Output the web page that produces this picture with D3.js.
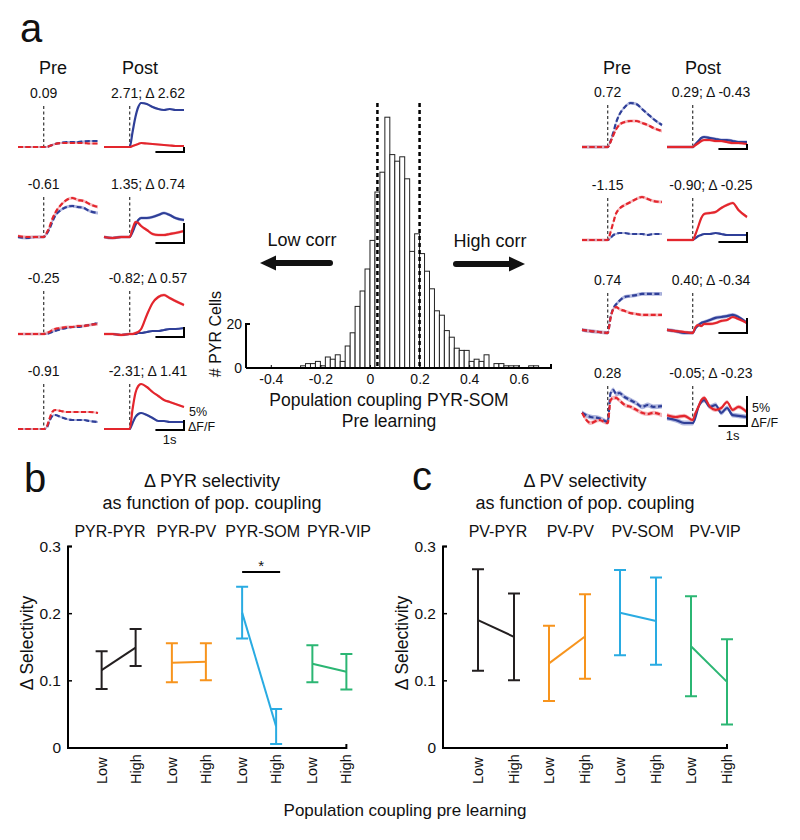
<!DOCTYPE html>
<html><head><meta charset="utf-8">
<script src="https://cdn.jsdelivr.net/npm/d3@7/dist/d3.min.js"></script>
<style>html,body{margin:0;padding:0;background:#fff;}svg{display:block;}</style>
</head><body>
<svg id="chart" width="800" height="840"></svg>
<script>
// ================= DATA =================
// Panel a: example traces (% dF/F) sampled at these times (s, 0 = stimulus onset)
const traceTime = [-0.9,-0.6,-0.3,0,0.1,0.2,0.3,0.4,0.6,0.8,1.0,1.2,1.4,1.6,1.9];

const leftPreLabels  = ["0.09","-0.61","-0.25","-0.91"];
const leftPostLabels = ["2.71; \u0394 2.62","1.35; \u0394 0.74","-0.82; \u0394 0.57","-2.31; \u0394 1.41"];
const rightPreLabels = ["0.72","-1.15","0.74","0.28"];
const rightPostLabels= ["0.29; \u0394 -0.43","-0.90; \u0394 -0.25","0.40; \u0394 -0.34","-0.05; \u0394 -0.23"];

// left column (low coupling)
const l1PreRed  = [0,0,0,0,0,1,2,3,4,4,4,4,4,3.5,3.5];
const l1PreBlue = [0,0,0,0,0,1,2,3,4,5,5,5,5.5,6,6];
const l1PostRed = [0,0,0,0,1,2,3,4,3.5,3,2.5,2,1.5,1,1];
const l1PostBlue= [0,0,0,0,15,30,40,44,43,40,38,37,38,37,37];

const l2PreRed  = [0.25,0,0,0,1,2.5,4.5,6,8,9.25,9.75,9.25,9,8.25,7.5];
const l2PreBlue = [0,-0.25,0,0,0.75,2,3.75,5.25,6.75,7.5,7.75,7.5,7.25,6.5,6];
const l2PostRed = [0,-0.25,0,0,2,3.75,3.5,2.75,1.75,0.75,0.5,0.5,0.75,1,1.5];
const l2PostBlue= [0,-0.25,0,0,1.25,3,4.25,4.75,4.75,5,5.5,6,5.5,4.75,4.25];

const l3PreRed  = [0,0,0,0,0.5,1,2,2.5,3,3.5,3.5,4,4,4.5,5];
const l3PreBlue = [0,0,0,0,0,0.5,1,1.5,2.5,3,3.5,3.5,4,4.5,5.5];
const l3PostRed = [0,0,-0.5,0,0,0.5,1,2.5,9.5,15.5,18.5,19.5,18,16.5,14.5];
const l3PostBlue= [0,0,-0.5,0,0,0,0.5,0.5,1,1.5,1.5,2,2.5,2.5,3];

const l4PreRed  = [0,0,0,0,1,5,8.5,9.5,9,8.5,8.5,8.5,8.5,8.5,8];
const l4PreBlue = [0,0,0,0,0.5,4,6.5,7,6,5,4.5,4.5,4.5,4,3.5];
const l4PostRed = [0,0,0,0,10,18,21.5,22.5,21,18.5,16.5,14.5,13.5,12.5,11];
const l4PostBlue= [0,0,0,0,3,6,7.5,8,7,5.5,4,4,3.5,3.5,3.5];

// right column (high coupling)
const r1PreRed  = [0,0,0,0,5,12,18,22,25,26,26,24,22,19,16];
const r1PreBlue = [0,0,0,0,6,15,25,32,40,44,43,38,33,28,22];
const r1PostRed = [0,0,0,0,2,4,6,7,7,6,6,5,4,4,3];
const r1PostBlue= [0,0,0,0,3,6,9,10,9,8,7,7,6,5,5];

const r2PreRed  = [0,0,0,0,4,9,13.5,15.5,17.5,19,20.5,21.5,20.5,19.5,19];
const r2PreBlue = [0,0,0,0,1,2.5,3,3.5,3.5,3,3,3,2.5,3,3];
const r2PostRed = [0,0,0,0,3,7,11,13,13.5,14,16,17.5,18.5,15,11.5];
const r2PostBlue= [0,0,0,0,1,2,2.5,3,3,3.5,3,2.5,2.5,2.5,2.5];

const r3PreRed  = [0.7,0.3,0,-0.3,4.7,7.7,8.3,7.7,7,6.3,6,5.7,5.7,5.7,5.7];
const r3PreBlue = [0.7,0.3,0,-0.3,5,8,9.3,10.3,11.7,12,12.3,12.7,12.7,12.7,12.7];
const r3PostRed = [0.7,0.3,0,-0.3,1.7,2.3,2,2.7,2.7,3,3.7,4,5,4.3,3];
const r3PostBlue= [0.7,0.3,-0.3,-0.3,1.3,2.3,3,3.3,4,4.7,5,5.3,5.7,5,3];

const r4PreRed  = [1.2,-0.5,0,-0.5,3.3,3.7,3.7,3.3,2.5,2.2,1.7,1.2,1,1.2,0.8];
const r4PreBlue = [1.2,0.5,0.3,-0.3,4.5,5,4.3,4.5,3.8,3.3,2.8,2.2,2.5,2.2,2.3];
const r4PostRed = [0.8,0.5,0.7,0,1.2,2.2,3.3,3.7,2.2,1.7,2,3,1.7,2.2,1.3];
const r4PostBlue= [0.3,0,-0.5,-0.5,0.5,2.2,3,3.3,2.2,2.5,1.2,2,0.8,0.7,0.5];

// s.e.m. per row
const semLeftRed  = [1.0,0.4,0.8,0.5];
const semLeftBlue = [1.0,0.4,0.5,0.5];
const semRightRed = [1.5,0.8,0.5,0.35];
const semRightBlue= [1.5,0.5,0.6,0.4];

// Histogram: population coupling PYR-SOM, pre learning
const histBinStart = -0.30;
const histBinWidth = 0.02;
const histCounts = [0,1,2,2,3,1,5,4,6,3,10,16,28,35,45,58,80,89,114,97,94,96,86,53,61,52,44,36,26,24,17,14,9,8,8,3,4,3,6,0,2,2,1,1,1,0,0,1,1,0,0];
const histThresholds = [0.03, 0.2];
const histXTicks = [-0.4,-0.2,0,0.2,0.4,0.6];
const histYTicks = [0,20];

// Panel b
const groupsB = ["PYR-PYR","PYR-PV","PYR-SOM","PYR-VIP"];
const bMeanLow  = [0.116,0.127,0.2015,0.1255];
const bErrLow   = [0.028,0.029,0.0385,0.0275];
const bMeanHigh = [0.1495,0.1285,0.032,0.1135];
const bErrHigh  = [0.0275,0.0275,0.026,0.0265];
const bSigGroup = "PYR-SOM";
const bSigLevel = 0.262;

// Panel c
const groupsC = ["PV-PYR","PV-PV","PV-SOM","PV-VIP"];
const cMeanLow  = [0.1905,0.126,0.2015,0.1515];
const cErrLow   = [0.0755,0.056,0.0635,0.0745];
const cMeanHigh = [0.1655,0.166,0.189,0.0985];
const cErrHigh  = [0.0645,0.063,0.065,0.0635];

const levels = ["Low","High"];
const selTicks = [0,0.1,0.2,0.3];
const groupColors = ["#231f20","#f7941d","#29abe2","#2bb673"];

// ================= DRAW =================
const svg = d3.select("#chart");
const FF = "'Liberation Sans', Arial, Helvetica, sans-serif";
const RED = "#e3262d", BLUE = "#2f3f98", RED_BAND = "#f29aa0", BLUE_BAND = "#8e98d2";

function txt(s, x, y, size, anchor, rot) {
  const t = svg.append("text").attr("font-family", FF).attr("font-size", size)
    .attr("fill", "#111").attr("text-anchor", anchor || "start").text(s);
  if (rot) t.attr("transform", `translate(${x},${y}) rotate(${rot})`);
  else t.attr("x", x).attr("y", y);
  return t;
}

// panel letters
txt("a", 20, 42, 40);
txt("b", 24, 492, 40);
txt("c", 412, 490, 40);

// ---------- panel a traces ----------
const cols = [
  { preX0: 18, postX0: 104, labelY: [98,189,283,376], baseY: [147,237,334,429], barY: [152,243,337,430],
    factor: [1,4,2,2], preLab: leftPreLabels, postLab: leftPostLabels,
    semR: semLeftRed, semB: semLeftBlue,
    rows: [[l1PreRed,l1PreBlue,l1PostRed,l1PostBlue],[l2PreRed,l2PreBlue,l2PostRed,l2PostBlue],
           [l3PreRed,l3PreBlue,l3PostRed,l3PostBlue],[l4PreRed,l4PreBlue,l4PostRed,l4PostBlue]] },
  { preX0: 582, postX0: 667, labelY: [97,190,285,378], baseY: [147,240,332,420], barY: [149,242,333,426],
    factor: [1,2,3,6], preLab: rightPreLabels, postLab: rightPostLabels,
    semR: semRightRed, semB: semRightBlue,
    rows: [[r1PreRed,r1PreBlue,r1PostRed,r1PostBlue],[r2PreRed,r2PreBlue,r2PostRed,r2PostBlue],
           [r3PreRed,r3PreBlue,r3PostRed,r3PostBlue],[r4PreRed,r4PreBlue,r4PostRed,r4PostBlue]] }
];

function drawTraces(x0, baseY, factor, labelY, red, blue, semR, semB, dashed) {
  const x = d3.scaleLinear().domain([-0.9, 1.9]).range([x0, x0 + 80]);
  const y = d3.scaleLinear().domain([0, 1]).range([baseY, baseY - factor]);
  svg.append("line").attr("x1", x(0)).attr("x2", x(0)).attr("y1", labelY + 8).attr("y2", baseY + 1)
    .attr("stroke", "#333").attr("stroke-width", 1.2).attr("stroke-dasharray", "3,2.5");
  const band = (vals, sem) => d3.area().x((d, i) => x(traceTime[i])).y0(d => y(d - sem)).y1(d => y(d + sem))
      .curve(d3.curveMonotoneX)(vals);
  const line = vals => d3.line().x((d, i) => x(traceTime[i])).y(d => y(d)).curve(d3.curveMonotoneX)(vals);
  [[blue, semB, BLUE_BAND], [red, semR, RED_BAND]].forEach(([v, s, c]) => {
    svg.append("path").attr("d", band(v, s)).attr("fill", c).attr("opacity", 0.7);
  });
  [[blue, BLUE], [red, RED]].forEach(([v, c]) => {
    svg.append("path").attr("d", line(v)).attr("fill", "none").attr("stroke", c)
      .attr("stroke-width", 2.2).attr("stroke-linejoin", "round")
      .attr("stroke-dasharray", dashed ? "5,2.5" : null);
  });
  return x;
}

cols.forEach((c, ci) => {
  txt("Pre", c.preX0 + 35, 74, 18, "middle");
  txt("Post", c.postX0 + 36, 74, 18, "middle");
  c.rows.forEach((r, ri) => {
    const xp = drawTraces(c.preX0, c.baseY[ri], c.factor[ri], c.labelY[ri], r[0], r[1], c.semR[ri], c.semB[ri], true);
    txt(c.preLab[ri], xp(0), c.labelY[ri], 14, "middle");
    drawTraces(c.postX0, c.baseY[ri], c.factor[ri], c.labelY[ri], r[2], r[3], c.semR[ri], c.semB[ri], false);
    txt(c.postLab[ri], c.postX0 + 44, c.labelY[ri], 14, "middle");
    // scale bar: 1 s horizontal, 5 % vertical
    const sx = d3.scaleLinear().domain([-0.9, 1.9]).range([c.postX0, c.postX0 + 80]);
    const xa = sx(0.9), xb = sx(1.9);
    const by = c.barY[ri], bl = 5 * c.factor[ri];
    svg.append("path").attr("d", `M${xa},${by}H${xb}V${by - bl}`).attr("fill", "none")
      .attr("stroke", "#000").attr("stroke-width", 2);
    if (ri === 3) {
      txt("5%", xb + 5, by - 14, 12.5, "start");
      txt("\u0394F/F", xb + 4, by + 0.5, 12.5, "start");
      txt("1s", (xa + xb) / 2, by + 14, 13, "middle");
    }
  });
});

// ---------- histogram ----------
const xH = d3.scaleLinear().domain([-0.5, 0.73]).range([246, 551]);
const yH = d3.scaleLinear().domain([0, 20]).range([368, 324]);
const hg = svg.append("g");
histCounts.forEach((n, i) => {
  if (n <= 0) return;
  const s = histBinStart + i * histBinWidth;
  hg.append("rect").attr("x", xH(s)).attr("width", xH(s + histBinWidth) - xH(s))
    .attr("y", yH(n)).attr("height", yH(0) - yH(n))
    .attr("fill", "#fff").attr("stroke", "#222").attr("stroke-width", 1);
});
histThresholds.forEach(v => {
  svg.append("line").attr("x1", xH(v)).attr("x2", xH(v)).attr("y1", 103).attr("y2", yH(0))
    .attr("stroke", "#000").attr("stroke-width", 2.5).attr("stroke-dasharray", "4,3");
});
const xAxisH = d3.axisBottom(xH).tickValues(histXTicks).tickSize(-3).tickPadding(6)
  .tickFormat(d => d === 0 ? "0" : String(d));
const gx = svg.append("g").attr("transform", `translate(0,${yH(0)})`).call(xAxisH);
gx.select(".domain").attr("d", `M${xH(-0.5)},0H${xH(0.73)}V-4`).attr("stroke", "#000").attr("stroke-width", 2);
gx.selectAll("text").attr("font-family", FF).attr("font-size", 14).attr("fill", "#111");
gx.selectAll(".tick line").attr("stroke", "#000");
svg.append("path").attr("d", `M${xH(-0.5)+4},${yH(20)}H${xH(-0.5)}V${yH(0)}`).attr("fill", "none")
  .attr("stroke", "#000").attr("stroke-width", 2);
histYTicks.forEach(v => txt(String(v), xH(-0.5) - 4, yH(v) + 5, 14, "end"));
txt("# PYR Cells", 221, 334, 16, "middle", -90);
txt("Population coupling PYR-SOM", 389, 406, 17.5, "middle");
txt("Pre learning", 389, 427, 17.5, "middle");

// arrows
txt("Low corr", 302, 246, 18, "middle");
txt("High corr", 490, 247, 18, "middle");
svg.append("line").attr("x1", 330).attr("x2", 272).attr("y1", 263).attr("y2", 263)
  .attr("stroke", "#111").attr("stroke-width", 6).attr("stroke-linecap", "round");
svg.append("path").attr("d", "M260,263L276,255.5L276,270.5Z").attr("fill", "#111");
svg.append("line").attr("x1", 456).attr("x2", 512).attr("y1", 264).attr("y2", 264)
  .attr("stroke", "#111").attr("stroke-width", 6).attr("stroke-linecap", "round");
svg.append("path").attr("d", "M525,264L509,256.5L509,271.5Z").attr("fill", "#111");

// ---------- panels b & c ----------
const yS = d3.scaleLinear().domain([0, 0.3]).range([748, 546.5]);

function drawSel(opt) {
  const band = d3.scaleBand().domain(opt.groups).range(opt.bandRange);
  const lab = d3.scalePoint().domain(opt.groups).range(opt.labelRange);
  const xLev = (g, lev) => band(g) + band.bandwidth() / 2 + (lev === "Low" ? -opt.half : opt.half);
  const xEnd = xLev(opt.groups[opt.groups.length - 1], "High");
  txt(opt.title, opt.titleX, 487, 18, "middle");
  txt("as function of pop. coupling", opt.titleX, 509, 18, "middle");
  opt.groups.forEach(g => txt(g, lab(g), 537, 16, "middle"));
  svg.append("path").attr("d", `M${opt.axisX + 4},${yS(0.3)}H${opt.axisX}V${yS(0)}H${xEnd}V${yS(0) - 4}`)
    .attr("fill", "none").attr("stroke", "#000").attr("stroke-width", 2);
  selTicks.forEach(v => {
    svg.append("line").attr("x1", opt.axisX).attr("x2", opt.axisX + 4).attr("y1", yS(v)).attr("y2", yS(v))
      .attr("stroke", "#000").attr("stroke-width", 1.5);
    txt(v === 0 ? "0" : String(v), opt.axisX - 7, yS(v) + 5, 15.5, "end");
  });
  txt("\u0394 Selectivity", opt.axisX - 35, 643, 17.5, "middle", -90);
  opt.groups.forEach(g => levels.forEach(l => {
    txt(l, xLev(g, l) + 5, 784, 14.5, "start", -90);
  }));
  opt.groups.forEach((g, i) => {
    const col = groupColors[i];
    const pts = [[xLev(g, "Low"), opt.meanLow[i], opt.errLow[i]], [xLev(g, "High"), opt.meanHigh[i], opt.errHigh[i]]];
    svg.append("line").attr("x1", pts[0][0]).attr("x2", pts[1][0]).attr("y1", yS(pts[0][1])).attr("y2", yS(pts[1][1]))
      .attr("stroke", col).attr("stroke-width", 2);
    pts.forEach(([x, m, e]) => {
      svg.append("path").attr("d",
        `M${x - 6},${yS(m + e)}H${x + 6}M${x},${yS(m + e)}V${yS(m - e)}M${x - 6},${yS(m - e)}H${x + 6}`)
        .attr("fill", "none").attr("stroke", col).attr("stroke-width", 2);
    });
  });
  if (opt.sigGroup) {
    const xa = xLev(opt.sigGroup, "Low"), xb = xLev(opt.sigGroup, "High") + 4;
    svg.append("line").attr("x1", xa).attr("x2", xb).attr("y1", yS(opt.sigLevel)).attr("y2", yS(opt.sigLevel))
      .attr("stroke", "#000").attr("stroke-width", 2);
    txt("*", (xa + xb) / 2, yS(opt.sigLevel) - 1, 15, "middle");
  }
}

drawSel({ groups: groupsB, bandRange: [83.5, 364.5], labelRange: [110, 339], half: 17, axisX: 68,
  title: "\u0394 PYR selectivity", titleX: 212, meanLow: bMeanLow, errLow: bErrLow,
  meanHigh: bMeanHigh, errHigh: bErrHigh, sigGroup: bSigGroup, sigLevel: bSigLevel });
drawSel({ groups: groupsC, bandRange: [460.5, 744.5], labelRange: [498, 715], half: 18, axisX: 443,
  title: "\u0394 PV selectivity", titleX: 585, meanLow: cMeanLow, errLow: cErrLow,
  meanHigh: cMeanHigh, errHigh: cErrHigh });

txt("Population coupling pre learning", 405, 816, 17, "middle");
</script>
</body></html>
